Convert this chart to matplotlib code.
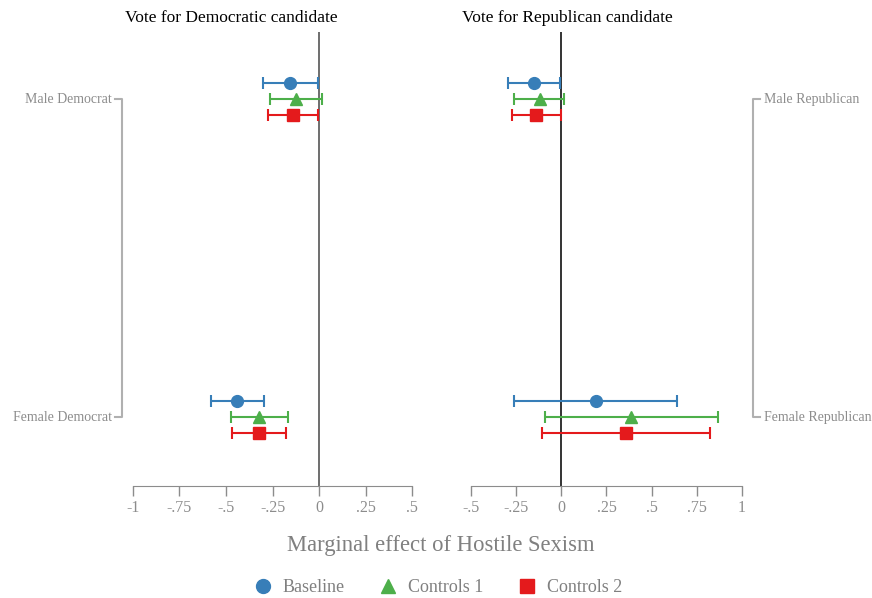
import matplotlib.pyplot as plt
from matplotlib.lines import Line2D
from matplotlib.transforms import blended_transform_factory

plt.rcParams['font.family'] = ['Liberation Serif', 'DejaVu Serif']

models = ['Baseline', 'Controls 1', 'Controls 2']
colors = ['#377eb8', '#4daf4a', '#e41a1c']
markers = ['o', '^', 's']

# Democratic candidate: [male, female] per model
dem_est = [[-0.157, -0.441], [-0.124, -0.320], [-0.142, -0.324]]
dem_lo = [[-0.300, -0.583], [-0.264, -0.471], [-0.275, -0.466]]
dem_hi = [[-0.007, -0.297], [0.016, -0.169], [-0.007, -0.180]]

# Republican candidate: [male, female] per model
rep_est = [[-0.151, 0.190], [-0.120, 0.386], [-0.138, 0.360]]
rep_lo = [[-0.297, -0.262], [-0.260, -0.089], [-0.271, -0.105]]
rep_hi = [[-0.007, 0.642], [0.017, 0.865], [-0.004, 0.823]]

dem_ticks = [-1, -0.75, -0.5, -0.25, 0, 0.25, 0.5]
dem_ticklabels = ['-1', '-.75', '-.5', '-.25', '0', '.25', '.5']
rep_ticks = [-0.5, -0.25, 0, 0.25, 0.5, 0.75, 1]
rep_ticklabels = ['-.5', '-.25', '0', '.25', '.5', '.75', '1']

group_y = [1, 0]
offsets = [0.05, 0, -0.05]
grey = '#8c8c8c'

fig = plt.figure(figsize=(8.72, 5.98), dpi=100)
ax1 = fig.add_axes([0.1525, 0.1873, 0.32, 0.7592])
ax2 = fig.add_axes([0.5401, 0.1873, 0.3108, 0.7592])


def draw_panel(ax, est, lo, hi, ticks, ticklabels, zero_color):
    ax.axvline(0, color=zero_color, lw=1.2, zorder=1)
    for k in range(3):
        ys = [g + offsets[k] for g in group_y]
        xerr = [[est[k][i] - lo[k][i] for i in range(2)],
                [hi[k][i] - est[k][i] for i in range(2)]]
        ax.errorbar(est[k], ys, xerr=xerr, fmt=markers[k], color=colors[k],
                    ms=8 if markers[k] != 'o' else 8.5, ecolor=colors[k],
                    elinewidth=1.5, capsize=4, capthick=1.5, zorder=3)
    ax.set_xlim(ticks[0], ticks[-1])
    ax.set_ylim(-0.217, 1.211)
    ax.set_xticks(ticks)
    ax.set_xticklabels(ticklabels)
    ax.set_yticks([])
    for s in ['top', 'left', 'right']:
        ax.spines[s].set_visible(False)
    ax.spines['bottom'].set_color(grey)
    ax.tick_params(axis='x', colors=grey, length=7, width=1,
                   labelsize=11.5, labelcolor=grey, pad=3)


draw_panel(ax1, dem_est, dem_lo, dem_hi, dem_ticks, dem_ticklabels, '#555555')
draw_panel(ax2, rep_est, rep_lo, rep_hi, rep_ticks, rep_ticklabels, '#111111')

fig.text(231 / 872, 1 - 18 / 598, 'Vote for Democratic candidate',
         ha='center', va='center', fontsize=12.5, color='black')
fig.text(567 / 872, 1 - 18 / 598, 'Vote for Republican candidate',
         ha='center', va='center', fontsize=12.5, color='black')

# group brackets beside each panel
bracket_color = '#b0b0b0'
label_size = 10

tr1 = blended_transform_factory(fig.transFigure, ax1.transData)
x_out, x_in = 115 / 872, 122 / 872
fig.add_artist(Line2D([x_out, x_in, x_in, x_out], [1, 1, 0, 0],
                      transform=tr1, color=bracket_color, lw=1.5))
ax1.text(112 / 872, 1, 'Male Democrat', transform=tr1, ha='right',
         va='center', fontsize=label_size, color=grey)
ax1.text(112 / 872, 0, 'Female Democrat', transform=tr1, ha='right',
         va='center', fontsize=label_size, color=grey)

tr2 = blended_transform_factory(fig.transFigure, ax2.transData)
x_in, x_out = 753 / 872, 760 / 872
fig.add_artist(Line2D([x_out, x_in, x_in, x_out], [1, 1, 0, 0],
                      transform=tr2, color=bracket_color, lw=1.5))
ax2.text(764 / 872, 1, 'Male Republican', transform=tr2, ha='left',
         va='center', fontsize=label_size, color=grey)
ax2.text(764 / 872, 0, 'Female Republican', transform=tr2, ha='left',
         va='center', fontsize=label_size, color=grey)

fig.text(441 / 872, 1 - 545 / 598, 'Marginal effect of Hostile Sexism',
         ha='center', va='center', fontsize=16.3, color='#808080')

handles = [Line2D([], [], ls='none', marker=markers[k], color=colors[k],
                  ms=10) for k in range(3)]
fig.legend(handles, models, loc='center', bbox_to_anchor=(0.502, 1 - 588 / 598),
           ncol=3, frameon=False, fontsize=13, labelcolor='#808080',
           handletextpad=0.6, columnspacing=1.9, handlelength=1)

fig.savefig('out.png', dpi=100)
